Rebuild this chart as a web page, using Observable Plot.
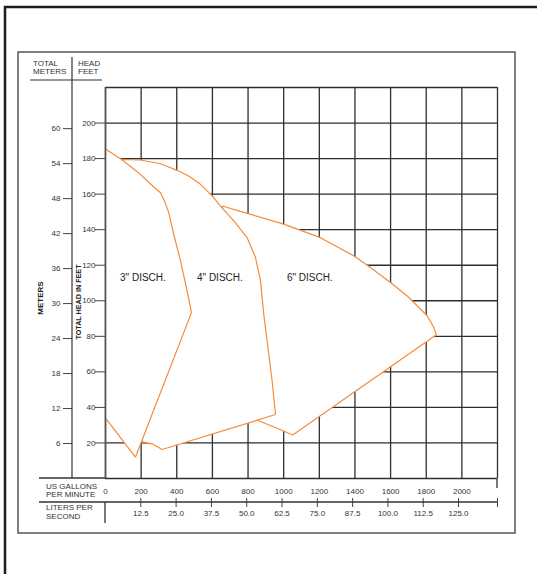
<!DOCTYPE html>
<html><head><meta charset="utf-8">
<script src="https://cdn.jsdelivr.net/npm/d3@7"></script>
<script src="https://cdn.jsdelivr.net/npm/@observablehq/plot@0.6"></script>
<style>body{margin:0;background:#fff} svg{display:block}</style>
</head><body><div id="chart"></div>
<script>
// ---- data ----
const gridGpm = [0,200,400,600,800,1000,1200,1400,1600,1800,2000,2200];
const gridFeet = [0,20,40,60,80,100,120,140,160,180,200,220];
const gpmTicks = [0,200,400,600,800,1000,1200,1400,1600,1800,2000];
const feetTicks = [20,40,60,80,100,120,140,160,180,200];
const meterTicks = [6,12,18,24,30,36,42,48,54,60];
const literTicks = [12.5,25.0,37.5,50.0,62.5,75.0,87.5,100.0,112.5,125.0];

// pump curves [US GPM, head in feet]
const curve3 = [[0,185.4],[88,179.6],[180,172.5],[271,164],[309,160.8],[331,156.2],[355,149.6],[383,137.4],[421,122.5],[458,105.6],[477,96.2],[482,93.2],[168,12],[0,34]];
const curve4 = [[88,179.6],[196,179.2],[309,177.1],[402,173.4],[467,170.2],[533,165.5],[599,159],[645,153.3],[720,144.9],[795,135.5],[842,124.3],[870,111.2],[888,92.5],[907,77.5],[935,55],[954,36],[318,16.3],[262,19.5],[206,20.6]];
const curve6 = [[655,153.3],[795,149.2],[1000,143.1],[1206,135.5],[1393,125.3],[1487,118.7],[1599,110.3],[1692,102.8],[1749,97.2],[1805,91.6],[1838,85.9],[1857,80.9],[1051,24.5],[950,28.8],[851,32.8]];
const discNames = ['3" DISCH.','4" DISCH.','6" DISCH.'];
const discGpm = [210,642,1147];
const discFeet = [113,113,113];

const GPM_PER_LPS = 15.850323;
const FT_PER_M = 1/0.3048;
const orange = "#f58b3c";
const gridColor = "#2e2e2e";
const textColor = "#333";

const discLabels = discNames.map((n,i)=>({name:n, x:discGpm[i], y:discFeet[i]}));
const shape = (data) => Plot.line(data, {x: d=>d[0], y: d=>d[1], fill:"white", stroke: orange, strokeWidth: 1.2, curve:"linear-closed", strokeLinejoin:"miter"});

const chart = Plot.plot({
  width: 537, height: 574,
  marginLeft: 105, marginRight: 40, marginTop: 87, marginBottom: 96,
  style: {fontFamily: "'Liberation Sans', Arial, Helvetica, sans-serif", fontSize: "8px", color: textColor, background: "#fff"},
  x: {domain: [0,2200]},
  y: {domain: [0,220]},
  marks: [
    Plot.ruleX(gridGpm, {stroke: gridColor, strokeWidth: 1.3}),
    Plot.ruleY(gridFeet, {stroke: gridColor, strokeWidth: 1.3}),
    shape(curve6),
    shape(curve4),
    shape(curve3),
    Plot.ruleX([0], {stroke: "#555", strokeWidth: 1.6}),
    Plot.text(discLabels, {x:"x", y:"y", text:"name", fontSize: 10, fill:"#222"}),
    // feet axis
    Plot.axisY({ticks: feetTicks, anchor:"left", tickSize: 10, tickPadding: 0, label: null, fontSize: 8, color: textColor, stroke: "#444"}),
    // meters axis
    Plot.axisY({ticks: meterTicks.map(m=>m*FT_PER_M), tickFormat: d=>String(Math.round(d/FT_PER_M)), anchor:"left", tickSize: 9, tickPadding: 3, dx: -33, label: null, fontSize: 8, color: textColor, stroke: "#444"}),
    // gpm labels
    Plot.axisX({ticks: gpmTicks, tickFormat: d=>String(d), anchor:"bottom", tickSize: 0, tickPadding: 10, label: null, fontSize: 8, color: textColor}),
    // liters per second
    Plot.axisX({ticks: literTicks.map(l=>l*GPM_PER_LPS), tickFormat: d=>(d/GPM_PER_LPS).toFixed(1), anchor:"bottom", tickSize: 9, tickPadding: 3, dy: 20, label: null, fontSize: 8, color: textColor, stroke:"#444"}),
    Plot.axisX({ticks: [2200], tickFormat: ()=>"", anchor:"bottom", tickSize: 9, tickPadding: 3, dy: 20, label: null, stroke:"#444"})
  ]
});

// ---- decorative frame and headers ----
const svg = d3.select(chart);
const deco = svg.append("g").attr("fill","none");
const line = (x1,y1,x2,y2,c,w)=>deco.append("line").attr("x1",x1).attr("y1",y1).attr("x2",x2).attr("y2",y2).attr("stroke",c).attr("stroke-width",w);
line(4,7,537,7,"#1e1e1e",2.5);
line(5,6,5,574,"#1e1e1e",2.5);
deco.append("rect").attr("x",18).attr("y",52).attr("width",497).attr("height",481).attr("stroke","#555").attr("stroke-width",1.5);
line(72,57,72,478,"#333",1.2);
line(30,80,102,80,"#333",1.2);
line(39,478,105,478,"#333",1.3);
line(39,502,497,502,"#333",1.3);
line(105,502,105,523,"#333",1.3);
line(497,478,497,488,"#333",1.3);

const tg = svg.append("g").attr("fill", textColor).attr("text-anchor","start").attr("font-family","'Liberation Sans', Arial, Helvetica, sans-serif").attr("font-size",8);
const txt = (x,y,s)=>tg.append("text").attr("x",x).attr("y",y).attr("text-anchor","start").text(s);
txt(33,66,"TOTAL"); txt(33,74,"METERS");
txt(78,66,"HEAD"); txt(78,74,"FEET");
txt(46,489,"US GALLONS"); txt(46,497,"PER MINUTE");
txt(46,510,"LITERS PER"); txt(46,519,"SECOND");
tg.append("text").attr("transform","translate(43,298) rotate(-90)").attr("text-anchor","middle").attr("font-weight","bold").attr("font-size",8).attr("fill","#222").text("METERS");
tg.append("text").attr("transform","translate(81,302) rotate(-90)").attr("text-anchor","middle").attr("font-weight","bold").attr("font-size",7.2).attr("fill","#222").text("TOTAL HEAD IN FEET");

document.getElementById("chart").appendChild(chart);
</script>
</body></html>
